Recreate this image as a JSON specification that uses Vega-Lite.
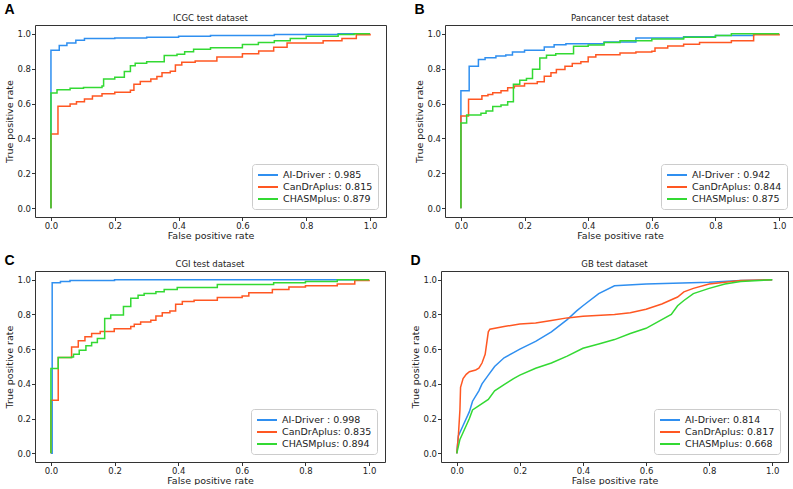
{
  "$schema": "https://vega.github.io/schema/vega-lite/v6.json",
  "padding": {"left": 4, "top": 3, "right": 2, "bottom": 0},
  "spacing": 14,
  "config": {
    "font": "DejaVu Sans",
    "view": {"stroke": "#333", "strokeWidth": 1},
    "axis": {"domain": false, "grid": false, "tickColor": "#333", "tickSize": 3.5, "labelFontSize": 8.5, "labelColor": "#222", "titleFontSize": 9.5, "titleFontWeight": "normal", "titleColor": "#222", "labelPadding": 1, "titlePadding": 0, "labelOverlap": false},
    "axisY": {"titlePadding": 2},
    "title": {"fontSize": 8.5, "fontWeight": "normal", "color": "#222", "offset": 3},
    "legend": {"orient": "bottom-right", "offset": 8, "title": null, "fillColor": "white", "strokeColor": "#cccccc", "cornerRadius": 3, "padding": 5, "symbolType": "M-1,0H3", "symbolSize": 100, "symbolStrokeWidth": 2, "labelFontSize": 9.5, "labelColor": "#222", "rowPadding": 1, "labelOffset": 14}
  },
  "datasets": {
    "A": [
      {"model": "AI-Driver", "fpr": 0, "tpr": 0}, {"model": "AI-Driver", "fpr": 0, "tpr": 0.905}, {"model": "AI-Driver", "fpr": 0.026, "tpr": 0.933}, {"model": "AI-Driver", "fpr": 0.05, "tpr": 0.947}, {"model": "AI-Driver", "fpr": 0.078, "tpr": 0.962}, {"model": "AI-Driver", "fpr": 0.105, "tpr": 0.972}, {"model": "AI-Driver", "fpr": 0.2, "tpr": 0.976}, {"model": "AI-Driver", "fpr": 0.3, "tpr": 0.98}, {"model": "AI-Driver", "fpr": 0.4, "tpr": 0.985}, {"model": "AI-Driver", "fpr": 0.5, "tpr": 0.99}, {"model": "AI-Driver", "fpr": 0.7, "tpr": 0.995}, {"model": "AI-Driver", "fpr": 0.9, "tpr": 1.0}, {"model": "AI-Driver", "fpr": 1, "tpr": 1},
      {"model": "CanDrAplus", "fpr": 0, "tpr": 0}, {"model": "CanDrAplus", "fpr": 0, "tpr": 0.425}, {"model": "CanDrAplus", "fpr": 0.022, "tpr": 0.585}, {"model": "CanDrAplus", "fpr": 0.06, "tpr": 0.598}, {"model": "CanDrAplus", "fpr": 0.08, "tpr": 0.611}, {"model": "CanDrAplus", "fpr": 0.105, "tpr": 0.626}, {"model": "CanDrAplus", "fpr": 0.13, "tpr": 0.643}, {"model": "CanDrAplus", "fpr": 0.16, "tpr": 0.656}, {"model": "CanDrAplus", "fpr": 0.2, "tpr": 0.665}, {"model": "CanDrAplus", "fpr": 0.249, "tpr": 0.676}, {"model": "CanDrAplus", "fpr": 0.26, "tpr": 0.711}, {"model": "CanDrAplus", "fpr": 0.28, "tpr": 0.726}, {"model": "CanDrAplus", "fpr": 0.313, "tpr": 0.74}, {"model": "CanDrAplus", "fpr": 0.332, "tpr": 0.755}, {"model": "CanDrAplus", "fpr": 0.348, "tpr": 0.776}, {"model": "CanDrAplus", "fpr": 0.374, "tpr": 0.785}, {"model": "CanDrAplus", "fpr": 0.39, "tpr": 0.821}, {"model": "CanDrAplus", "fpr": 0.41, "tpr": 0.836}, {"model": "CanDrAplus", "fpr": 0.452, "tpr": 0.844}, {"model": "CanDrAplus", "fpr": 0.52, "tpr": 0.867}, {"model": "CanDrAplus", "fpr": 0.6, "tpr": 0.886}, {"model": "CanDrAplus", "fpr": 0.651, "tpr": 0.901}, {"model": "CanDrAplus", "fpr": 0.698, "tpr": 0.922}, {"model": "CanDrAplus", "fpr": 0.74, "tpr": 0.947}, {"model": "CanDrAplus", "fpr": 0.853, "tpr": 0.96}, {"model": "CanDrAplus", "fpr": 0.912, "tpr": 0.973}, {"model": "CanDrAplus", "fpr": 0.957, "tpr": 0.994}, {"model": "CanDrAplus", "fpr": 1, "tpr": 1},
      {"model": "CHASMplus", "fpr": 0, "tpr": 0}, {"model": "CHASMplus", "fpr": 0, "tpr": 0.66}, {"model": "CHASMplus", "fpr": 0.019, "tpr": 0.679}, {"model": "CHASMplus", "fpr": 0.06, "tpr": 0.688}, {"model": "CHASMplus", "fpr": 0.102, "tpr": 0.692}, {"model": "CHASMplus", "fpr": 0.16, "tpr": 0.7}, {"model": "CHASMplus", "fpr": 0.165, "tpr": 0.74}, {"model": "CHASMplus", "fpr": 0.2, "tpr": 0.751}, {"model": "CHASMplus", "fpr": 0.23, "tpr": 0.783}, {"model": "CHASMplus", "fpr": 0.249, "tpr": 0.816}, {"model": "CHASMplus", "fpr": 0.264, "tpr": 0.831}, {"model": "CHASMplus", "fpr": 0.3, "tpr": 0.84}, {"model": "CHASMplus", "fpr": 0.355, "tpr": 0.875}, {"model": "CHASMplus", "fpr": 0.395, "tpr": 0.882}, {"model": "CHASMplus", "fpr": 0.419, "tpr": 0.897}, {"model": "CHASMplus", "fpr": 0.447, "tpr": 0.911}, {"model": "CHASMplus", "fpr": 0.5, "tpr": 0.92}, {"model": "CHASMplus", "fpr": 0.6, "tpr": 0.939}, {"model": "CHASMplus", "fpr": 0.65, "tpr": 0.95}, {"model": "CHASMplus", "fpr": 0.7, "tpr": 0.96}, {"model": "CHASMplus", "fpr": 0.75, "tpr": 0.972}, {"model": "CHASMplus", "fpr": 0.8, "tpr": 0.985}, {"model": "CHASMplus", "fpr": 0.9, "tpr": 0.996}, {"model": "CHASMplus", "fpr": 0.95, "tpr": 1.0}, {"model": "CHASMplus", "fpr": 1, "tpr": 1}
    ],
    "B": [
      {"model": "AI-Driver", "fpr": 0, "tpr": 0}, {"model": "AI-Driver", "fpr": 0, "tpr": 0.674}, {"model": "AI-Driver", "fpr": 0.026, "tpr": 0.814}, {"model": "AI-Driver", "fpr": 0.055, "tpr": 0.852}, {"model": "AI-Driver", "fpr": 0.076, "tpr": 0.863}, {"model": "AI-Driver", "fpr": 0.11, "tpr": 0.872}, {"model": "AI-Driver", "fpr": 0.141, "tpr": 0.878}, {"model": "AI-Driver", "fpr": 0.162, "tpr": 0.896}, {"model": "AI-Driver", "fpr": 0.2, "tpr": 0.905}, {"model": "AI-Driver", "fpr": 0.262, "tpr": 0.924}, {"model": "AI-Driver", "fpr": 0.293, "tpr": 0.937}, {"model": "AI-Driver", "fpr": 0.33, "tpr": 0.943}, {"model": "AI-Driver", "fpr": 0.45, "tpr": 0.953}, {"model": "AI-Driver", "fpr": 0.55, "tpr": 0.975}, {"model": "AI-Driver", "fpr": 0.7, "tpr": 0.982}, {"model": "AI-Driver", "fpr": 0.8, "tpr": 0.99}, {"model": "AI-Driver", "fpr": 0.92, "tpr": 1.0}, {"model": "AI-Driver", "fpr": 1, "tpr": 1},
      {"model": "CanDrAplus", "fpr": 0, "tpr": 0}, {"model": "CanDrAplus", "fpr": 0, "tpr": 0.529}, {"model": "CanDrAplus", "fpr": 0.024, "tpr": 0.624}, {"model": "CanDrAplus", "fpr": 0.066, "tpr": 0.645}, {"model": "CanDrAplus", "fpr": 0.085, "tpr": 0.652}, {"model": "CanDrAplus", "fpr": 0.1, "tpr": 0.662}, {"model": "CanDrAplus", "fpr": 0.126, "tpr": 0.674}, {"model": "CanDrAplus", "fpr": 0.147, "tpr": 0.691}, {"model": "CanDrAplus", "fpr": 0.168, "tpr": 0.7}, {"model": "CanDrAplus", "fpr": 0.2, "tpr": 0.715}, {"model": "CanDrAplus", "fpr": 0.24, "tpr": 0.725}, {"model": "CanDrAplus", "fpr": 0.262, "tpr": 0.757}, {"model": "CanDrAplus", "fpr": 0.283, "tpr": 0.776}, {"model": "CanDrAplus", "fpr": 0.3, "tpr": 0.795}, {"model": "CanDrAplus", "fpr": 0.327, "tpr": 0.814}, {"model": "CanDrAplus", "fpr": 0.35, "tpr": 0.829}, {"model": "CanDrAplus", "fpr": 0.377, "tpr": 0.839}, {"model": "CanDrAplus", "fpr": 0.4, "tpr": 0.867}, {"model": "CanDrAplus", "fpr": 0.424, "tpr": 0.88}, {"model": "CanDrAplus", "fpr": 0.5, "tpr": 0.89}, {"model": "CanDrAplus", "fpr": 0.55, "tpr": 0.895}, {"model": "CanDrAplus", "fpr": 0.6, "tpr": 0.9}, {"model": "CanDrAplus", "fpr": 0.61, "tpr": 0.918}, {"model": "CanDrAplus", "fpr": 0.65, "tpr": 0.93}, {"model": "CanDrAplus", "fpr": 0.7, "tpr": 0.94}, {"model": "CanDrAplus", "fpr": 0.75, "tpr": 0.95}, {"model": "CanDrAplus", "fpr": 0.85, "tpr": 0.96}, {"model": "CanDrAplus", "fpr": 0.92, "tpr": 0.994}, {"model": "CanDrAplus", "fpr": 1, "tpr": 1},
      {"model": "CHASMplus", "fpr": 0, "tpr": 0}, {"model": "CHASMplus", "fpr": 0, "tpr": 0.488}, {"model": "CHASMplus", "fpr": 0.018, "tpr": 0.535}, {"model": "CHASMplus", "fpr": 0.063, "tpr": 0.545}, {"model": "CHASMplus", "fpr": 0.079, "tpr": 0.558}, {"model": "CHASMplus", "fpr": 0.1, "tpr": 0.583}, {"model": "CHASMplus", "fpr": 0.126, "tpr": 0.592}, {"model": "CHASMplus", "fpr": 0.147, "tpr": 0.611}, {"model": "CHASMplus", "fpr": 0.165, "tpr": 0.71}, {"model": "CHASMplus", "fpr": 0.185, "tpr": 0.734}, {"model": "CHASMplus", "fpr": 0.206, "tpr": 0.744}, {"model": "CHASMplus", "fpr": 0.225, "tpr": 0.797}, {"model": "CHASMplus", "fpr": 0.248, "tpr": 0.861}, {"model": "CHASMplus", "fpr": 0.269, "tpr": 0.877}, {"model": "CHASMplus", "fpr": 0.298, "tpr": 0.886}, {"model": "CHASMplus", "fpr": 0.354, "tpr": 0.928}, {"model": "CHASMplus", "fpr": 0.4, "tpr": 0.935}, {"model": "CHASMplus", "fpr": 0.45, "tpr": 0.95}, {"model": "CHASMplus", "fpr": 0.5, "tpr": 0.96}, {"model": "CHASMplus", "fpr": 0.6, "tpr": 0.97}, {"model": "CHASMplus", "fpr": 0.7, "tpr": 0.98}, {"model": "CHASMplus", "fpr": 0.8, "tpr": 0.99}, {"model": "CHASMplus", "fpr": 0.85, "tpr": 1.0}, {"model": "CHASMplus", "fpr": 1, "tpr": 1}
    ],
    "C": [
      {"model": "AI-Driver", "fpr": 0, "tpr": 0}, {"model": "AI-Driver", "fpr": 0.004, "tpr": 0.983}, {"model": "AI-Driver", "fpr": 0.03, "tpr": 0.99}, {"model": "AI-Driver", "fpr": 0.06, "tpr": 0.995}, {"model": "AI-Driver", "fpr": 0.2, "tpr": 1.0}, {"model": "AI-Driver", "fpr": 1, "tpr": 1},
      {"model": "CanDrAplus", "fpr": 0, "tpr": 0}, {"model": "CanDrAplus", "fpr": 0, "tpr": 0.306}, {"model": "CanDrAplus", "fpr": 0.023, "tpr": 0.552}, {"model": "CanDrAplus", "fpr": 0.065, "tpr": 0.613}, {"model": "CanDrAplus", "fpr": 0.086, "tpr": 0.648}, {"model": "CanDrAplus", "fpr": 0.107, "tpr": 0.672}, {"model": "CanDrAplus", "fpr": 0.128, "tpr": 0.69}, {"model": "CanDrAplus", "fpr": 0.155, "tpr": 0.701}, {"model": "CanDrAplus", "fpr": 0.199, "tpr": 0.718}, {"model": "CanDrAplus", "fpr": 0.251, "tpr": 0.73}, {"model": "CanDrAplus", "fpr": 0.262, "tpr": 0.743}, {"model": "CanDrAplus", "fpr": 0.282, "tpr": 0.757}, {"model": "CanDrAplus", "fpr": 0.314, "tpr": 0.766}, {"model": "CanDrAplus", "fpr": 0.33, "tpr": 0.791}, {"model": "CanDrAplus", "fpr": 0.35, "tpr": 0.81}, {"model": "CanDrAplus", "fpr": 0.374, "tpr": 0.82}, {"model": "CanDrAplus", "fpr": 0.392, "tpr": 0.858}, {"model": "CanDrAplus", "fpr": 0.413, "tpr": 0.874}, {"model": "CanDrAplus", "fpr": 0.45, "tpr": 0.881}, {"model": "CanDrAplus", "fpr": 0.523, "tpr": 0.897}, {"model": "CanDrAplus", "fpr": 0.601, "tpr": 0.906}, {"model": "CanDrAplus", "fpr": 0.622, "tpr": 0.925}, {"model": "CanDrAplus", "fpr": 0.696, "tpr": 0.944}, {"model": "CanDrAplus", "fpr": 0.748, "tpr": 0.958}, {"model": "CanDrAplus", "fpr": 0.8, "tpr": 0.965}, {"model": "CanDrAplus", "fpr": 0.9, "tpr": 0.975}, {"model": "CanDrAplus", "fpr": 0.955, "tpr": 0.996}, {"model": "CanDrAplus", "fpr": 1, "tpr": 1},
      {"model": "CHASMplus", "fpr": 0, "tpr": 0}, {"model": "CHASMplus", "fpr": 0, "tpr": 0.489}, {"model": "CHASMplus", "fpr": 0.023, "tpr": 0.552}, {"model": "CHASMplus", "fpr": 0.065, "tpr": 0.555}, {"model": "CHASMplus", "fpr": 0.071, "tpr": 0.571}, {"model": "CHASMplus", "fpr": 0.089, "tpr": 0.594}, {"model": "CHASMplus", "fpr": 0.11, "tpr": 0.619}, {"model": "CHASMplus", "fpr": 0.128, "tpr": 0.638}, {"model": "CHASMplus", "fpr": 0.146, "tpr": 0.661}, {"model": "CHASMplus", "fpr": 0.169, "tpr": 0.776}, {"model": "CHASMplus", "fpr": 0.188, "tpr": 0.797}, {"model": "CHASMplus", "fpr": 0.228, "tpr": 0.845}, {"model": "CHASMplus", "fpr": 0.251, "tpr": 0.893}, {"model": "CHASMplus", "fpr": 0.274, "tpr": 0.91}, {"model": "CHASMplus", "fpr": 0.293, "tpr": 0.92}, {"model": "CHASMplus", "fpr": 0.33, "tpr": 0.93}, {"model": "CHASMplus", "fpr": 0.356, "tpr": 0.944}, {"model": "CHASMplus", "fpr": 0.397, "tpr": 0.955}, {"model": "CHASMplus", "fpr": 0.523, "tpr": 0.972}, {"model": "CHASMplus", "fpr": 0.7, "tpr": 0.982}, {"model": "CHASMplus", "fpr": 0.8, "tpr": 0.99}, {"model": "CHASMplus", "fpr": 0.9, "tpr": 1.0}, {"model": "CHASMplus", "fpr": 1, "tpr": 1}
    ],
    "D": [
      {"model": "AI-Driver", "fpr": 0, "tpr": 0}, {"model": "AI-Driver", "fpr": 0.005, "tpr": 0.1}, {"model": "AI-Driver", "fpr": 0.02, "tpr": 0.16}, {"model": "AI-Driver", "fpr": 0.04, "tpr": 0.24}, {"model": "AI-Driver", "fpr": 0.05, "tpr": 0.3}, {"model": "AI-Driver", "fpr": 0.07, "tpr": 0.36}, {"model": "AI-Driver", "fpr": 0.08, "tpr": 0.4}, {"model": "AI-Driver", "fpr": 0.1, "tpr": 0.45}, {"model": "AI-Driver", "fpr": 0.12, "tpr": 0.5}, {"model": "AI-Driver", "fpr": 0.15, "tpr": 0.55}, {"model": "AI-Driver", "fpr": 0.18, "tpr": 0.58}, {"model": "AI-Driver", "fpr": 0.2, "tpr": 0.6}, {"model": "AI-Driver", "fpr": 0.25, "tpr": 0.645}, {"model": "AI-Driver", "fpr": 0.3, "tpr": 0.7}, {"model": "AI-Driver", "fpr": 0.35, "tpr": 0.77}, {"model": "AI-Driver", "fpr": 0.38, "tpr": 0.82}, {"model": "AI-Driver", "fpr": 0.4, "tpr": 0.85}, {"model": "AI-Driver", "fpr": 0.45, "tpr": 0.92}, {"model": "AI-Driver", "fpr": 0.5, "tpr": 0.965}, {"model": "AI-Driver", "fpr": 0.6, "tpr": 0.975}, {"model": "AI-Driver", "fpr": 0.8, "tpr": 0.985}, {"model": "AI-Driver", "fpr": 0.9, "tpr": 0.995}, {"model": "AI-Driver", "fpr": 1, "tpr": 1},
      {"model": "CanDrAplus", "fpr": 0, "tpr": 0}, {"model": "CanDrAplus", "fpr": 0.005, "tpr": 0.1}, {"model": "CanDrAplus", "fpr": 0.01, "tpr": 0.25}, {"model": "CanDrAplus", "fpr": 0.012, "tpr": 0.38}, {"model": "CanDrAplus", "fpr": 0.02, "tpr": 0.43}, {"model": "CanDrAplus", "fpr": 0.03, "tpr": 0.455}, {"model": "CanDrAplus", "fpr": 0.04, "tpr": 0.47}, {"model": "CanDrAplus", "fpr": 0.06, "tpr": 0.48}, {"model": "CanDrAplus", "fpr": 0.07, "tpr": 0.49}, {"model": "CanDrAplus", "fpr": 0.08, "tpr": 0.52}, {"model": "CanDrAplus", "fpr": 0.09, "tpr": 0.57}, {"model": "CanDrAplus", "fpr": 0.1, "tpr": 0.7}, {"model": "CanDrAplus", "fpr": 0.105, "tpr": 0.715}, {"model": "CanDrAplus", "fpr": 0.15, "tpr": 0.73}, {"model": "CanDrAplus", "fpr": 0.2, "tpr": 0.745}, {"model": "CanDrAplus", "fpr": 0.25, "tpr": 0.75}, {"model": "CanDrAplus", "fpr": 0.3, "tpr": 0.765}, {"model": "CanDrAplus", "fpr": 0.35, "tpr": 0.78}, {"model": "CanDrAplus", "fpr": 0.4, "tpr": 0.79}, {"model": "CanDrAplus", "fpr": 0.5, "tpr": 0.8}, {"model": "CanDrAplus", "fpr": 0.55, "tpr": 0.81}, {"model": "CanDrAplus", "fpr": 0.6, "tpr": 0.83}, {"model": "CanDrAplus", "fpr": 0.65, "tpr": 0.86}, {"model": "CanDrAplus", "fpr": 0.7, "tpr": 0.9}, {"model": "CanDrAplus", "fpr": 0.72, "tpr": 0.93}, {"model": "CanDrAplus", "fpr": 0.75, "tpr": 0.95}, {"model": "CanDrAplus", "fpr": 0.8, "tpr": 0.975}, {"model": "CanDrAplus", "fpr": 0.9, "tpr": 0.995}, {"model": "CanDrAplus", "fpr": 1, "tpr": 1},
      {"model": "CHASMplus", "fpr": 0, "tpr": 0}, {"model": "CHASMplus", "fpr": 0.01, "tpr": 0.08}, {"model": "CHASMplus", "fpr": 0.02, "tpr": 0.12}, {"model": "CHASMplus", "fpr": 0.04, "tpr": 0.2}, {"model": "CHASMplus", "fpr": 0.05, "tpr": 0.25}, {"model": "CHASMplus", "fpr": 0.1, "tpr": 0.31}, {"model": "CHASMplus", "fpr": 0.12, "tpr": 0.36}, {"model": "CHASMplus", "fpr": 0.15, "tpr": 0.395}, {"model": "CHASMplus", "fpr": 0.18, "tpr": 0.43}, {"model": "CHASMplus", "fpr": 0.2, "tpr": 0.45}, {"model": "CHASMplus", "fpr": 0.25, "tpr": 0.49}, {"model": "CHASMplus", "fpr": 0.3, "tpr": 0.52}, {"model": "CHASMplus", "fpr": 0.35, "tpr": 0.56}, {"model": "CHASMplus", "fpr": 0.4, "tpr": 0.605}, {"model": "CHASMplus", "fpr": 0.45, "tpr": 0.63}, {"model": "CHASMplus", "fpr": 0.5, "tpr": 0.655}, {"model": "CHASMplus", "fpr": 0.55, "tpr": 0.69}, {"model": "CHASMplus", "fpr": 0.6, "tpr": 0.72}, {"model": "CHASMplus", "fpr": 0.65, "tpr": 0.77}, {"model": "CHASMplus", "fpr": 0.68, "tpr": 0.8}, {"model": "CHASMplus", "fpr": 0.7, "tpr": 0.85}, {"model": "CHASMplus", "fpr": 0.72, "tpr": 0.88}, {"model": "CHASMplus", "fpr": 0.75, "tpr": 0.92}, {"model": "CHASMplus", "fpr": 0.8, "tpr": 0.95}, {"model": "CHASMplus", "fpr": 0.85, "tpr": 0.975}, {"model": "CHASMplus", "fpr": 0.9, "tpr": 0.99}, {"model": "CHASMplus", "fpr": 1, "tpr": 1}
    ]
  },
  "resolve": {"scale": {"color": "independent"}, "legend": {"color": "independent"}},
  "vconcat": [
    {
      "hconcat": [
        {
          "title": {"text": "A", "anchor": "start", "font": "Liberation Sans", "fontSize": 14, "fontWeight": "bold", "color": "#000", "offset": -4},
          "resolve": {"scale": {"color": "independent"}, "legend": {"color": "independent"}},
          "vconcat": [{
            "title": "ICGC test dataset",
            "width": 351, "height": 192,
            "data": {"name": "A"},
            "mark": {"type": "line", "interpolate": "step-after", "strokeWidth": 1.5},
            "encoding": {
              "x": {"field": "fpr", "type": "quantitative", "scale": {"domain": [-0.05, 1.05], "nice": false, "zero": false}, "axis": {"values": [0, 0.2, 0.4, 0.6, 0.8, 1], "format": ".1f", "title": "False positive rate"}},
              "y": {"field": "tpr", "type": "quantitative", "scale": {"domain": [-0.05, 1.05], "nice": false, "zero": false}, "axis": {"values": [0, 0.2, 0.4, 0.6, 0.8, 1], "format": ".1f", "title": "True positive rate"}},
              "color": {"field": "model", "type": "nominal", "sort": null, "scale": {"domain": ["AI-Driver", "CanDrAplus", "CHASMplus"], "range": ["#2f8ff0", "#ff5722", "#33d933"]}, "legend": {"labelExpr": "datum.label == 'AI-Driver' ? 'AI-Driver : 0.985' : datum.label == 'CanDrAplus' ? 'CanDrAplus: 0.815' : 'CHASMplus: 0.879'"}}
            }
          }]
        },
        {
          "title": {"text": "B", "anchor": "start", "font": "Liberation Sans", "fontSize": 14, "fontWeight": "bold", "color": "#000", "offset": -4},
          "resolve": {"scale": {"color": "independent"}, "legend": {"color": "independent"}},
          "vconcat": [{
            "title": "Pancancer test dataset",
            "width": 350, "height": 192,
            "data": {"name": "B"},
            "mark": {"type": "line", "interpolate": "step-after", "strokeWidth": 1.5},
            "encoding": {
              "x": {"field": "fpr", "type": "quantitative", "scale": {"domain": [-0.05, 1.05], "nice": false, "zero": false}, "axis": {"values": [0, 0.2, 0.4, 0.6, 0.8, 1], "format": ".1f", "title": "False positive rate"}},
              "y": {"field": "tpr", "type": "quantitative", "scale": {"domain": [-0.05, 1.05], "nice": false, "zero": false}, "axis": {"values": [0, 0.2, 0.4, 0.6, 0.8, 1], "format": ".1f", "title": "True positive rate"}},
              "color": {"field": "model", "type": "nominal", "sort": null, "scale": {"domain": ["AI-Driver", "CanDrAplus", "CHASMplus"], "range": ["#2f8ff0", "#ff5722", "#33d933"]}, "legend": {"labelExpr": "datum.label == 'AI-Driver' ? 'AI-Driver : 0.942' : datum.label == 'CanDrAplus' ? 'CanDrAplus: 0.844' : 'CHASMplus: 0.875'"}}
            }
          }]
        }
      ],
      "spacing": 27,
      "resolve": {"scale": {"color": "independent"}, "legend": {"color": "independent"}}
    },
    {
      "hconcat": [
        {
          "title": {"text": "C", "anchor": "start", "font": "Liberation Sans", "fontSize": 14, "fontWeight": "bold", "color": "#000", "offset": -9},
          "resolve": {"scale": {"color": "independent"}, "legend": {"color": "independent"}},
          "vconcat": [{
            "title": "CGI test dataset",
            "width": 350, "height": 191,
            "data": {"name": "C"},
            "mark": {"type": "line", "interpolate": "step-after", "strokeWidth": 1.5},
            "encoding": {
              "x": {"field": "fpr", "type": "quantitative", "scale": {"domain": [-0.05, 1.05], "nice": false, "zero": false}, "axis": {"values": [0, 0.2, 0.4, 0.6, 0.8, 1], "format": ".1f", "title": "False positive rate"}},
              "y": {"field": "tpr", "type": "quantitative", "scale": {"domain": [-0.05, 1.05], "nice": false, "zero": false}, "axis": {"values": [0, 0.2, 0.4, 0.6, 0.8, 1], "format": ".1f", "title": "True positive rate"}},
              "color": {"field": "model", "type": "nominal", "sort": null, "scale": {"domain": ["AI-Driver", "CanDrAplus", "CHASMplus"], "range": ["#2f8ff0", "#ff5722", "#33d933"]}, "legend": {"labelExpr": "datum.label == 'AI-Driver' ? 'AI-Driver : 0.998' : datum.label == 'CanDrAplus' ? 'CanDrAplus: 0.835' : 'CHASMplus: 0.894'"}}
            }
          }]
        },
        {
          "title": {"text": "D", "anchor": "start", "font": "Liberation Sans", "fontSize": 14, "fontWeight": "bold", "color": "#000", "offset": -9},
          "resolve": {"scale": {"color": "independent"}, "legend": {"color": "independent"}},
          "vconcat": [{
            "title": "GB test dataset",
            "width": 347, "height": 191,
            "data": {"name": "D"},
            "mark": {"type": "line", "interpolate": "linear", "strokeWidth": 1.5},
            "encoding": {
              "x": {"field": "fpr", "type": "quantitative", "scale": {"domain": [-0.05, 1.05], "nice": false, "zero": false}, "axis": {"values": [0, 0.2, 0.4, 0.6, 0.8, 1], "format": ".1f", "title": "False positive rate"}},
              "y": {"field": "tpr", "type": "quantitative", "scale": {"domain": [-0.05, 1.05], "nice": false, "zero": false}, "axis": {"values": [0, 0.2, 0.4, 0.6, 0.8, 1], "format": ".1f", "title": "True positive rate"}},
              "color": {"field": "model", "type": "nominal", "sort": null, "scale": {"domain": ["AI-Driver", "CanDrAplus", "CHASMplus"], "range": ["#2f8ff0", "#ff5722", "#33d933"]}, "legend": {"labelExpr": "datum.label == 'AI-Driver' ? 'AI-Driver: 0.814' : datum.label == 'CanDrAplus' ? 'CanDrAplus: 0.817' : 'CHASMplus: 0.668'"}}
            }
          }]
        }
      ],
      "spacing": 24,
      "resolve": {"scale": {"color": "independent"}, "legend": {"color": "independent"}}
    }
  ]
}
